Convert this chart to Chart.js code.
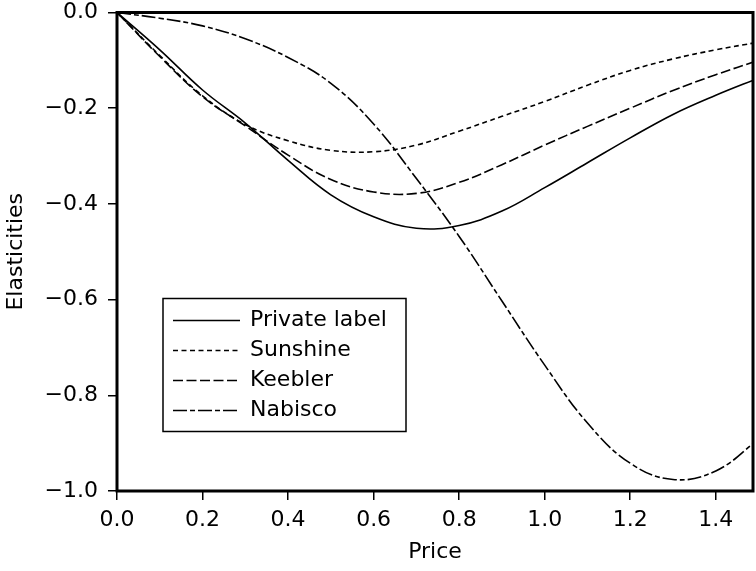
<!DOCTYPE html>
<html>
<head>
<meta charset="utf-8">
<script src="https://cdn.jsdelivr.net/npm/chart.js@4.4.0/dist/chart.umd.min.js"></script>
<style>
	html, body { margin: 0; padding: 0; background: #fff; }
	#wrap { width: 756px; height: 571px; }
</style>
</head>
<body>
<div id="wrap"><canvas id="myChart" width="756" height="571"></canvas></div>
<script>
// values (price vs. elasticity)
const prices = [0, 0.1, 0.2, 0.3, 0.4, 0.5, 0.6, 0.7, 0.8, 0.9, 1.0, 1.1, 1.2, 1.3, 1.4, 1.5];
const privateLabel = [0, -0.078, -0.162, -0.231, -0.309, -0.381, -0.427, -0.451, -0.445, -0.415, -0.366, -0.314, -0.262, -0.213, -0.173, -0.137];
const sunshine = [0, -0.09, -0.174, -0.234, -0.268, -0.288, -0.291, -0.277, -0.248, -0.217, -0.186, -0.152, -0.121, -0.097, -0.078, -0.062];
const keebler = [0, -0.092, -0.176, -0.237, -0.298, -0.349, -0.375, -0.378, -0.355, -0.318, -0.277, -0.238, -0.2, -0.163, -0.13, -0.1];
const nabisco = [0, -0.012, -0.028, -0.055, -0.094, -0.148, -0.233, -0.347, -0.468, -0.603, -0.737, -0.858, -0.942, -0.976, -0.958, -0.892];

const seriesNames = ['Private label', 'Sunshine', 'Keebler', 'Nabisco'];
const seriesValues = [privateLabel, sunshine, keebler, nabisco];
const seriesDash = [[], [5, 3.5], [10, 3.5], [14, 3, 5, 3]];

const yTicks = [0, -0.2, -0.4, -0.6, -0.8, -1.0];
const xTicks = [0, 0.2, 0.4, 0.6, 0.8, 1.0, 1.2, 1.4];

const FONT = '"DejaVu Sans", sans-serif';

function fmt(v) {
	if (Math.abs(v) < 1e-9) return '0.0';
	return (v < 0 ? '\u2212' : '') + Math.abs(v).toFixed(1);
}

// frame round the plot + legend box inside it
const framePlugin = {
	id: 'frame',
	afterDatasetsDraw(chart) {
		const ctx = chart.ctx;
		const a = chart.chartArea;
		ctx.save();
		ctx.strokeStyle = '#000';
		ctx.lineWidth = 3;
		ctx.strokeRect(a.left, a.top, a.right - a.left, a.bottom - a.top);

		// legend
		const bx = a.left + 46, by = a.top + 286, bw = 243, bh = 133;
		ctx.fillStyle = '#fff';
		ctx.fillRect(bx, by, bw, bh);
		ctx.lineWidth = 1.5;
		ctx.strokeRect(bx, by, bw, bh);
		ctx.font = '22px ' + FONT;
		ctx.textBaseline = 'middle';
		ctx.fillStyle = '#000';
		chart.data.datasets.forEach((ds, i) => {
			const ry = by + 22 + i * 30;
			ctx.beginPath();
			ctx.setLineDash(ds.borderDash);
			ctx.lineWidth = 1.6;
			ctx.moveTo(bx + 10, ry);
			ctx.lineTo(bx + 77, ry);
			ctx.stroke();
			ctx.setLineDash([]);
			ctx.fillText(ds.label, bx + 87, ry);
		});
		ctx.restore();
	}
};

function drawGraph() {
	const myChart = document.getElementById('myChart').getContext('2d');
	const datasets = seriesNames.map((name, i) => ({
		label: name,
		data: prices.map((p, j) => ({ x: p, y: seriesValues[i][j] })),
		borderColor: '#000',
		borderWidth: 1.6,
		borderDash: seriesDash[i],
		pointRadius: 0,
		fill: false,
		tension: 0.4
	}));

	new Chart(myChart, {
		type: 'line',
		data: { datasets: datasets },
		plugins: [framePlugin],
		options: {
			responsive: false,
			animation: false,
			events: [],
			layout: { padding: { top: 12.5, right: 3, left: 0, bottom: 0 } },
			plugins: { legend: { display: false }, tooltip: { enabled: false } },
			scales: {
				x: {
					type: 'linear',
					min: 0,
					max: 1.487,
					afterFit: s => { s.height = 80; s.paddingLeft = 0; s.paddingRight = 0; },
					afterBuildTicks: s => { s.ticks = xTicks.map(v => ({ value: v })); },
					border: { display: false },
					grid: { drawOnChartArea: false, drawTicks: true, tickLength: 9, color: '#000', lineWidth: 1.5 },
					ticks: { includeBounds: false, padding: 7, color: '#000', font: { family: FONT, size: 22 }, callback: v => fmt(v), maxRotation: 0 },
					title: { display: true, text: 'Price', color: '#000', font: { family: FONT, size: 22 }, padding: { top: 0, bottom: 6 } }
				},
				y: {
					type: 'linear',
					min: -1,
					max: 0,
					afterFit: s => { s.width = 117; s.paddingTop = 0; s.paddingBottom = 0; },
					afterBuildTicks: s => { s.ticks = yTicks.map(v => ({ value: v })); },
					border: { display: false },
					grid: { drawOnChartArea: false, drawTicks: true, tickLength: 9, color: '#000', lineWidth: 1.5 },
					ticks: { includeBounds: false, padding: 10, color: '#000', font: { family: FONT, size: 22 }, callback: v => fmt(v) },
					title: { display: true, text: 'Elasticities', color: '#000', font: { family: FONT, size: 22 }, padding: { top: 3.5, bottom: 0 } }
				}
			}
		}
	});
}

drawGraph();
</script>
</body>
</html>
